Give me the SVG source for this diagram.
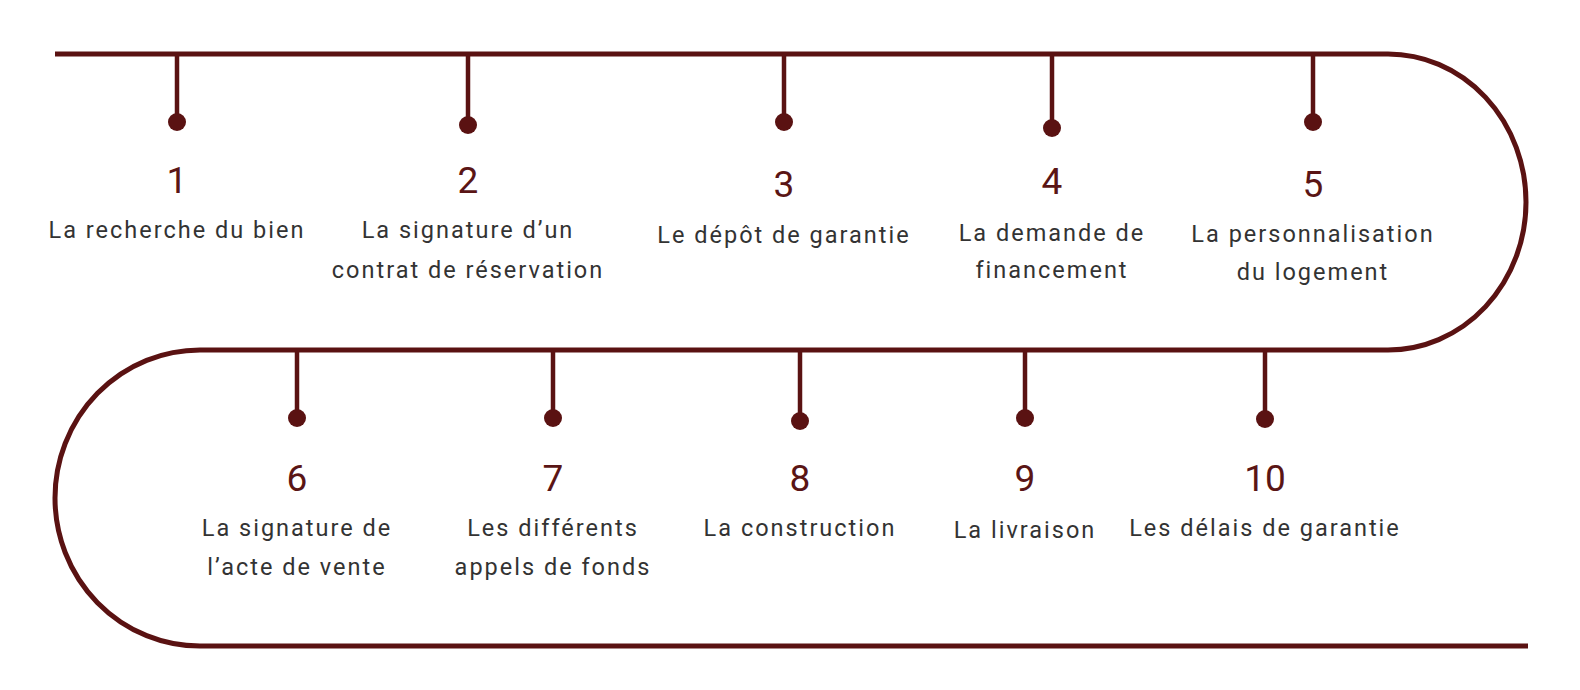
<svg xmlns="http://www.w3.org/2000/svg" width="1580" height="690" viewBox="0 0 1580 690">
<style>
.ln{fill:none;stroke:#5a1212;stroke-width:5}
.st{stroke:#5a1212;stroke-width:4.5}
.dot{fill:#5a1212}
.num{font-family:Roboto,"Liberation Sans",sans-serif;font-size:37px;fill:#5a1515;text-anchor:middle}
.lb{font-family:Roboto,"Liberation Sans",sans-serif;font-size:23.5px;fill:#333;text-anchor:middle;letter-spacing:2px}
</style>
<rect width="1580" height="690" fill="#fff"/>
<g id="connectors">
<path class="ln" d="M55 54 H1388 A138 148 0 0 1 1388 350 H200 A145 148 0 0 0 200 646 H1528"/>
</g>
<g id="n1"><line class="st" x1="177" y1="54" x2="177" y2="122"/><circle class="dot" cx="177" cy="122" r="9"/><text class="num" x="177" y="193">1</text><text class="lb" x="177" y="238">La recherche du bien</text></g>
<g id="n2"><line class="st" x1="468" y1="54" x2="468" y2="125"/><circle class="dot" cx="468" cy="125" r="9"/><text class="num" x="468" y="193">2</text><text class="lb" x="468" y="238">La signature d’un</text><text class="lb" x="468" y="278">contrat de réservation</text></g>
<g id="n3"><line class="st" x1="784" y1="54" x2="784" y2="122"/><circle class="dot" cx="784" cy="122" r="9"/><text class="num" x="784" y="197">3</text><text class="lb" x="784" y="243">Le dépôt de garantie</text></g>
<g id="n4"><line class="st" x1="1052" y1="54" x2="1052" y2="128"/><circle class="dot" cx="1052" cy="128" r="9"/><text class="num" x="1052" y="194">4</text><text class="lb" x="1052" y="241">La demande de</text><text class="lb" x="1052" y="278">financement</text></g>
<g id="n5"><line class="st" x1="1313" y1="54" x2="1313" y2="122"/><circle class="dot" cx="1313" cy="122" r="9"/><text class="num" x="1313" y="197">5</text><text class="lb" x="1313" y="242">La personnalisation</text><text class="lb" x="1313" y="280">du logement</text></g>
<g id="n6"><line class="st" x1="297" y1="350" x2="297" y2="418"/><circle class="dot" cx="297" cy="418" r="9"/><text class="num" x="297" y="491">6</text><text class="lb" x="297" y="536">La signature de</text><text class="lb" x="297" y="575">l’acte de vente</text></g>
<g id="n7"><line class="st" x1="553" y1="350" x2="553" y2="418"/><circle class="dot" cx="553" cy="418" r="9"/><text class="num" x="553" y="491">7</text><text class="lb" x="553" y="536">Les différents</text><text class="lb" x="553" y="575">appels de fonds</text></g>
<g id="n8"><line class="st" x1="800" y1="350" x2="800" y2="421"/><circle class="dot" cx="800" cy="421" r="9"/><text class="num" x="800" y="491">8</text><text class="lb" x="800" y="536">La construction</text></g>
<g id="n9"><line class="st" x1="1025" y1="350" x2="1025" y2="418"/><circle class="dot" cx="1025" cy="418" r="9"/><text class="num" x="1025" y="491">9</text><text class="lb" x="1025" y="538">La livraison</text></g>
<g id="n10"><line class="st" x1="1265" y1="350" x2="1265" y2="419"/><circle class="dot" cx="1265" cy="419" r="9"/><text class="num" x="1265" y="491">10</text><text class="lb" x="1265" y="536">Les délais de garantie</text></g>
</svg>
